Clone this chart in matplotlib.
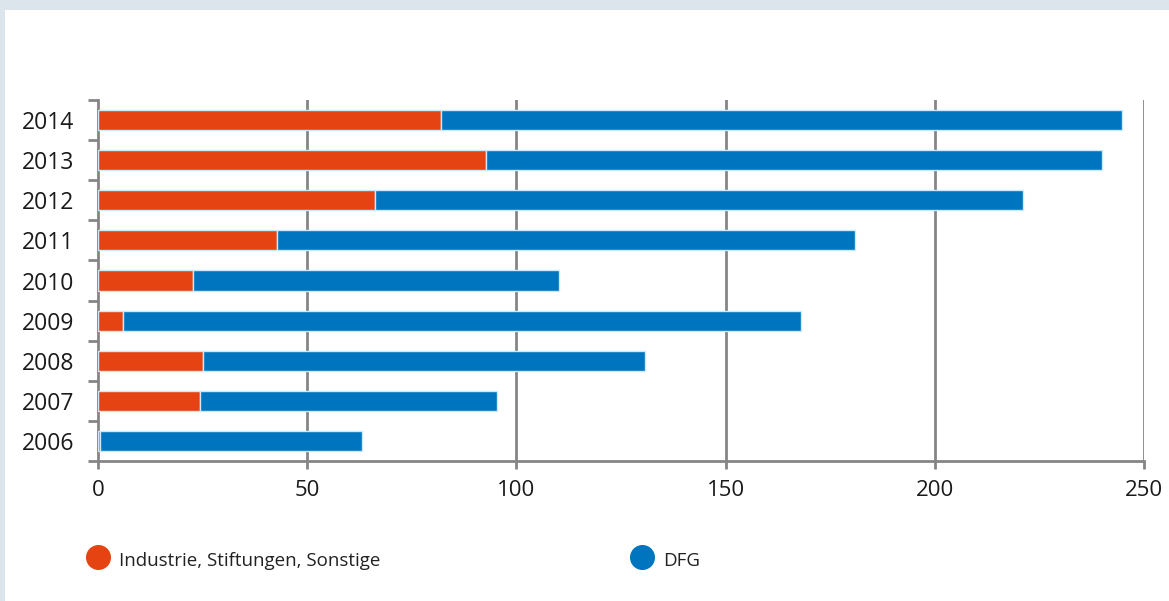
import numpy as np
import matplotlib.pyplot as plt
from matplotlib.patches import Rectangle
from matplotlib.lines import Line2D

plt.rcParams['font.family'] = ['Open Sans', 'DejaVu Sans']

years = ['2006', '2007', '2008', '2009', '2010', '2011', '2012', '2013', '2014']
industrie = [0.5, 24.4, 25.1, 6.0, 22.7, 42.8, 66.2, 92.7, 82.0]
dfg = [62.6, 71.0, 105.6, 162.0, 87.5, 138.1, 154.9, 147.3, 162.7]
x_ticks = [0, 50, 100, 150, 200, 250]
labels = ['Industrie, Stiftungen, Sonstige', 'DFG']

red = '#e64312'
blue = '#0075bf'
grey = '#858585'
edge = '#cde8f6'

fig = plt.figure(figsize=(11.69, 6.01), dpi=100, facecolor='#dbe5eb')
# weisse Flaeche innerhalb des Rahmens
fig.patches.append(Rectangle((5 / 1169, 0), 1, 1 - 10 / 601, transform=fig.transFigure,
                             facecolor='white', edgecolor='none', zorder=-10))

ax = fig.add_axes([98 / 1169, 1 - 461 / 601, (1144 - 98) / 1169, 361 / 601])
ax.set_facecolor('none')

y = np.arange(len(years))
ax.barh(y, industrie, height=0.5, color=red, edgecolor=edge, linewidth=1, zorder=3)
ax.barh(y, dfg, left=industrie, height=0.5, color=blue, edgecolor=edge, linewidth=1, zorder=3)

ax.set_xlim(0, 250)
ax.set_ylim(-0.5, len(years) - 0.5)

# vertikale Gitterlinien hinter den Balken
for v in x_ticks[1:]:
    ax.axvline(v, color=grey, linewidth=2, zorder=1)

for s in ['top', 'right']:
    ax.spines[s].set_visible(False)
for s in ['left', 'bottom']:
    ax.spines[s].set_color(grey)
    ax.spines[s].set_linewidth(2)

ax.set_xticks(x_ticks)
ax.set_xticklabels([str(v) for v in x_ticks], fontsize=16, color='#1a1a1a')
ax.tick_params(axis='x', length=6, width=2, color=grey, pad=8)

# Jahreszahlen mittig, Striche an den Kategoriegrenzen
ax.set_yticks(np.arange(-0.5, len(years), 1.0))
ax.set_yticklabels([])
ax.tick_params(axis='y', which='major', length=7, width=2, color=grey)
ax.set_yticks(y, minor=True)
ax.set_yticklabels(years, minor=True, fontsize=16.5, color='#1a1a1a')
ax.tick_params(axis='y', which='minor', length=0, pad=17)

# Legende unter dem Diagramm
fig.add_artist(Line2D([98 / 1169], [1 - 557 / 601], marker='o', markersize=17,
                      color=red, transform=fig.transFigure))
fig.text(119 / 1169, 1 - 561 / 601, labels[0], fontsize=13.5, color='#222222', va='center')
fig.add_artist(Line2D([642 / 1169], [1 - 557 / 601], marker='o', markersize=17,
                      color=blue, transform=fig.transFigure))
fig.text(663 / 1169, 1 - 561 / 601, labels[1], fontsize=13.5, color='#222222', va='center')

fig.savefig('out.png', dpi=100, facecolor=fig.get_facecolor())
